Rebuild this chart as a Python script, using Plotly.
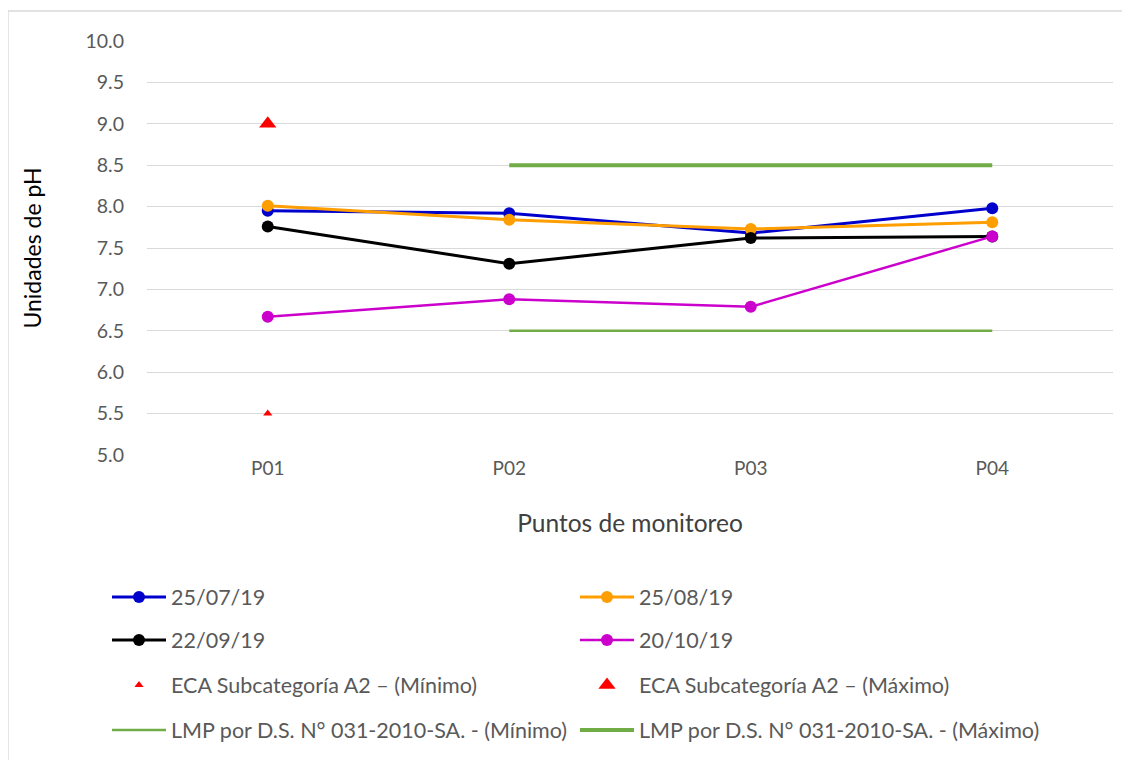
import plotly.graph_objects as go

puntos = ["P01", "P02", "P03", "P04"]
s_250719 = [7.95, 7.92, 7.68, 7.98]
s_250819 = [8.01, 7.84, 7.73, 7.81]
s_220919 = [7.76, 7.31, 7.62, 7.64]
s_201019 = [6.67, 6.88, 6.79, 7.64]
eca_puntos = ["P01"]
eca_min = [5.5]
eca_max = [9.0]
lmp_puntos = ["P02", "P03", "P04"]
lmp_min = [6.5, 6.5, 6.5]
lmp_max = [8.5, 8.5, 8.5]
y_ticks = [5.0, 5.5, 6.0, 6.5, 7.0, 7.5, 8.0, 8.5, 9.0, 9.5, 10.0]

FONT = "Lato"
fig = go.Figure()

def line_trace(name, y, color, width, legend):
    return go.Scatter(x=puntos, y=y, name=name, mode="lines+markers",
                      line=dict(color=color, width=width),
                      marker=dict(color=color, size=12),
                      legend=legend)

fig.add_trace(line_trace("25/07/19", s_250719, "#0000CC", 3, "legend"))
fig.add_trace(line_trace("25/08/19", s_250819, "#FF9E00", 3, "legend"))
fig.add_trace(line_trace("22/09/19", s_220919, "#000000", 3, "legend2"))
fig.add_trace(line_trace("20/10/19", s_201019, "#CC00CC", 2.5, "legend2"))
fig.add_trace(go.Scatter(x=eca_puntos, y=eca_min, name="ECA Subcategoría A2 – (Mínimo)",
                         mode="markers", marker=dict(symbol="triangle-up", color="#FF0000", size=8),
                         legend="legend3"))
fig.add_trace(go.Scatter(x=eca_puntos, y=eca_max, name="ECA Subcategoría A2 – (Máximo)",
                         mode="markers", marker=dict(symbol="triangle-up", color="#FF0000", size=15),
                         legend="legend3"))
fig.add_trace(go.Scatter(x=lmp_puntos, y=lmp_min, name="LMP por D.S. N° 031-2010-SA. - (Mínimo)",
                         mode="lines", line=dict(color="#70AD47", width=2.5), legend="legend4"))
fig.add_trace(go.Scatter(x=lmp_puntos, y=lmp_max, name="LMP por D.S. N° 031-2010-SA. - (Máximo)",
                         mode="lines", line=dict(color="#70AD47", width=4), legend="legend4"))

# page has an 8px body margin: convert screenshot pixels to figure pixels
OFF = 8
W, H = 1122, 752
L, R, T, B = 147 - OFF, 1113 - OFF, 41 - OFF, 455 - OFF
pw, ph = R - L, B - T

def py(pix):
    return (B - (pix - OFF)) / ph

def px(pix):
    return ((pix - OFF) - L) / pw

leg_common = dict(orientation="h", entrywidth=399, entrywidthmode="pixels",
                  font=dict(family=FONT, size=21.5, color="#595959"),
                  bgcolor="rgba(0,0,0,0)", itemwidth=54,
                  xanchor="left", yanchor="middle", x=px(107), traceorder="normal")
rows = [597, 640, 685, 730]
legends = {}
for i, key in enumerate(["legend", "legend2", "legend3", "legend4"]):
    legends[key] = dict(leg_common, y=py(rows[i]))

fig.update_layout(
    width=W, height=H,
    margin=dict(l=L, r=W - R, t=T, b=H - B, autoexpand=False),
    paper_bgcolor="white", plot_bgcolor="white",
    font=dict(family=FONT, color="#595959"),
    showlegend=True,
    **legends,
    xaxis=dict(type="category", categoryorder="array", categoryarray=puntos,
               range=[-0.5, 3.5], showgrid=False, zeroline=False, showline=False,
               ticks="", tickfont=dict(family=FONT, size=19, color="#595959"),
               title=dict(text="Puntos de monitoreo", standoff=36,
                          font=dict(family=FONT, size=24.5, color="#404040"))),
    yaxis=dict(range=[5.0, 10.0], tickvals=y_ticks, ticktext=[f"{v:.1f}" for v in y_ticks],
               showgrid=True, gridcolor="#D9D9D9", gridwidth=1.3, zeroline=False,
               showline=False, ticks="", ticklabelstandoff=22,
               tickfont=dict(family=FONT, size=19.5, color="#595959"),
               title=dict(text="Unidades de pH", standoff=37,
                          font=dict(family=FONT, size=23, color="#000000"))),
    shapes=[dict(type="rect", xref="paper", yref="paper",
                 x0=px(8), x1=px(1150), y0=py(800), y1=py(11),
                 line=dict(color="#D9D9D9", width=1.3), fillcolor="rgba(0,0,0,0)", layer="below")],
)

fig.write_html("out.html")
